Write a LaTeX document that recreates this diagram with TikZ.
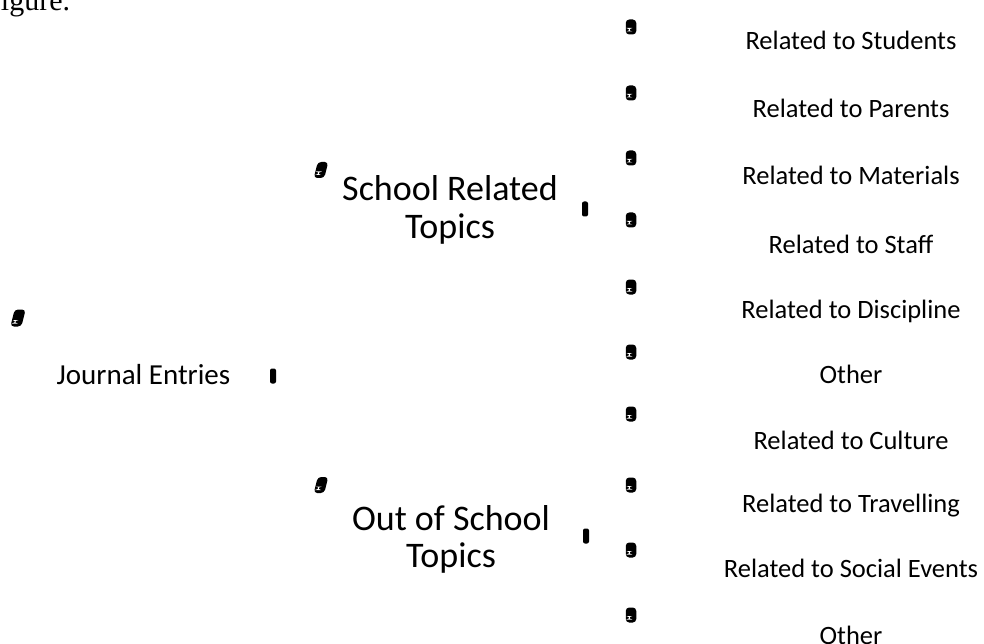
\documentclass[tikz,border=0pt]{standalone}
\usepackage{fontspec}
\setmainfont{Carlito}
\newfontfamily\capfont{Liberation Serif}
\begin{document}
\begin{tikzpicture}[x=1pt,y=-1pt,
  every node/.style={inner sep=0pt, outer sep=0pt},
  leaf/.style={anchor=base, font=\fontsize{26.5}{30}\selectfont},
  branch/.style={anchor=base, align=center, font=\fontsize{36}{37}\selectfont},
  rootlbl/.style={anchor=base, font=\fontsize{29}{32}\selectfont},
  bullet/.style={rectangle, fill=black, rounded corners=3.5pt,
    minimum width=10.5pt, minimum height=15pt,
    path picture={\fill[white] ([xshift=3pt,yshift=3pt]path picture bounding box.south west) rectangle ++(1pt,3.5pt);}},
  tilted/.style={bullet, xslant=0.25, transform shape, minimum height=16pt},
  tick/.style={rectangle, fill=black, rounded corners=2pt,
    minimum width=6pt, minimum height=15pt}
]
\useasboundingbox[fill=white] (0,0) rectangle (984,644);

% caption fragment
\node[anchor=base west, font=\capfont\fontsize{30}{32}\selectfont] (cap) at (1,11) {igure.};

% root
\node[tilted, minimum width=11pt, minimum height=17pt] (b0) at (18,318) {};
\node[rootlbl] (root) at (143.5,384) {Journal Entries};
\node[tick] (t0) at (273,376) {};

% branches (base anchor sits on the last line)
\node[tilted] (b1) at (321,170) {};
\node[branch] (school) at (450,238) {School Related\\Topics};
\node[tick] (t1) at (585,209) {};

\node[tilted] (b2) at (321,485) {};
\node[branch] (out) at (451,567) {Out of School\\Topics};
\node[tick] (t2) at (586,536) {};

% leaves
\foreach \i/\by/\ty/\txt in {
  1/27/50/Related to Students,
  2/93/118/Related to Parents,
  3/158/185/Related to Materials,
  4/220/253/Related to Staff,
  5/287/318/Related to Discipline,
  6/352/383/Other,
  7/414/449/Related to Culture,
  8/485/512/Related to Travelling,
  9/550/577/Related to Social Events,
  10/615/644/Other}{
  \node[bullet] (lb\i) at (631,\by) {};
  \node[leaf] (leaf\i) at (851,\ty) {\txt};
}
\end{tikzpicture}
\end{document}
